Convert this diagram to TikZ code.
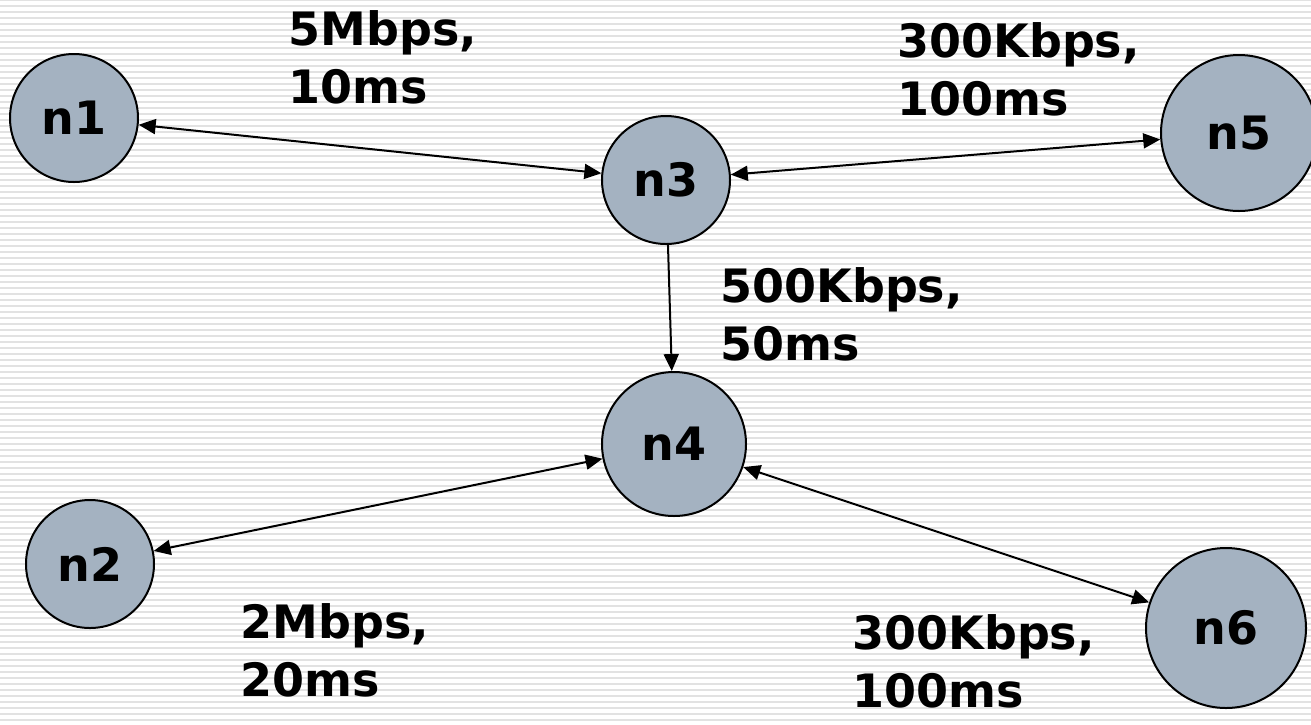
\documentclass[tikz,border=0pt]{standalone}
\usepackage{fontspec}
\setmainfont{DejaVu Sans}
\usepackage{tikz}
\usetikzlibrary{arrows.meta}
\definecolor{hostfill}{RGB}{164,178,193}
\definecolor{stripe}{RGB}{226,226,226}

\begin{document}
\begin{tikzpicture}[
  x=0.5pt,y=-0.5pt,
  every node/.style={font=\fontsize{23}{29}\selectfont\bfseries},
  host/.style={circle,draw,fill=hostfill,line width=1pt,inner sep=0pt},
  rate/.style={anchor=north west,align=left,inner sep=0pt},
  link/.style={line width=1pt,{Triangle[length=8.5pt,width=7.5pt]}-{Triangle[length=8.5pt,width=7.5pt]}},
  uplink/.style={line width=1pt,-{Triangle[length=8.5pt,width=7.5pt]}}
]
  \useasboundingbox (0,0) rectangle (1311,724);
  \fill[white] (0,0) rectangle (1311,724);
  \foreach \y in {-1,5,...,724}
    \fill[stripe] (0,\y) rectangle (1311,\y+2);

  \node[host,minimum size=64pt] (n1) at (74,118) {n1};
  \node[host,minimum size=64pt] (n3) at (666,180) {n3};
  \node[host,minimum size=78pt] (n5) at (1239,133) {n5};
  \node[host,minimum size=72pt] (n4) at (674,444) {n4};
  \node[host,minimum size=64pt] (n2) at (90,564) {n2};
  \node[host,minimum size=80pt] (n6) at (1226,628) {n6};

  \draw[link] (n1) -- (n3);
  \draw[link] (n3) -- (n5);
  \draw[uplink] (n3) -- (n4);
  \draw[link] (n2) -- (n4);
  \draw[link] (n4) -- (n6);

  \node[rate] (l13) at (288,10) {5Mbps,\\10ms};
  \node[rate] (l35) at (897,22) {300Kbps,\\100ms};
  \node[rate] (l34) at (720,267) {500Kbps,\\50ms};
  \node[rate] (l24) at (240,603) {2Mbps,\\20ms};
  \node[rate] (l46) at (852,614) {300Kbps,\\100ms};
\end{tikzpicture}
\end{document}
